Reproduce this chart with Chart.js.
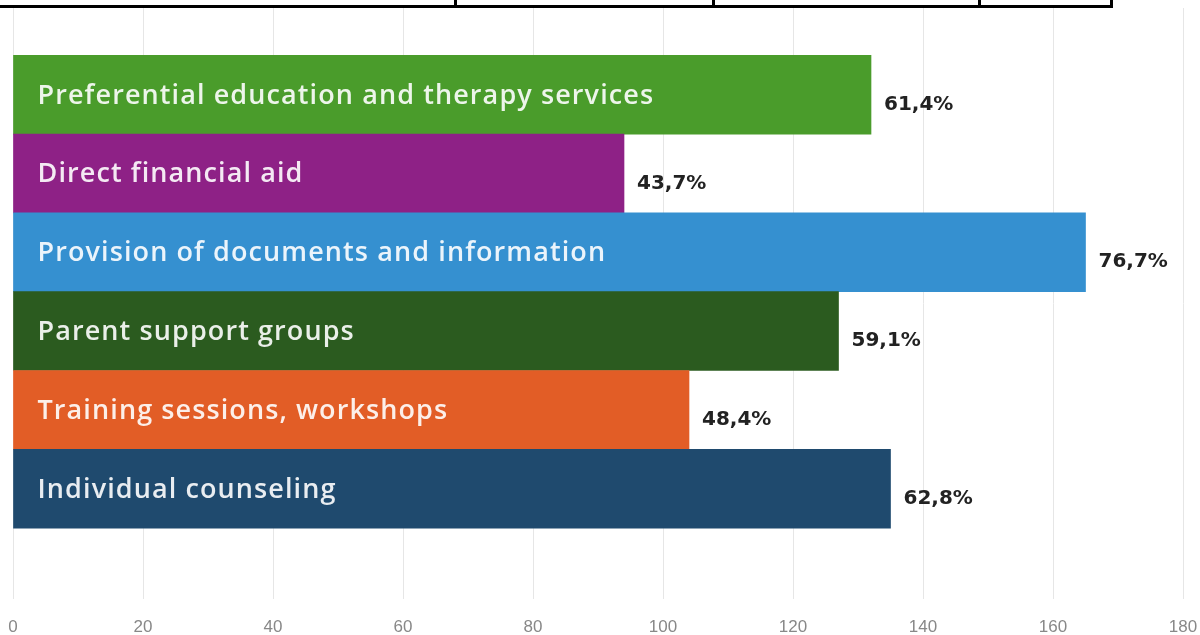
<!DOCTYPE html>
<html>
<head>
<meta charset="utf-8">
<script src="https://cdn.jsdelivr.net/npm/chart.js@4/dist/chart.umd.min.js"></script>
<style>
  html, body { margin: 0; padding: 0; background: #fff; }
  #wrap { position: relative; width: 1200px; height: 635px; overflow: hidden; }
  #chart { position: absolute; left: 0; top: 0; }
  /* bottom edge of the table row that sits above the chart */
  #table-edge {
    position: absolute; left: 0; top: 0; width: 1110px; height: 5px;
    border-bottom: 3px solid #000; border-right: 3px solid #000;
  }
  .cell-divider { position: absolute; top: 0; width: 3px; height: 5px; background: #000; }
</style>
</head>
<body>
<div id="wrap">
  <canvas id="chart" width="1200" height="635"></canvas>
  <div id="table-edge">
    <div class="cell-divider" style="left: 454px"></div>
    <div class="cell-divider" style="left: 712px"></div>
    <div class="cell-divider" style="left: 978px"></div>
  </div>
</div>
<script>
'use strict';

const SERVICES = [
  'Preferential education and therapy services',
  'Direct financial aid',
  'Provision of documents and information',
  'Parent support groups',
  'Training sessions, workshops',
  'Individual counseling',
];
const COUNTS = [132, 94, 165, 127, 104, 135];
const RESPONDENTS = 215;
const BAR_COLORS = ['#4a9c2b', '#8e2186', '#3590d0', '#2b5b1f', '#e25d26', '#1f4a6e'];
const X_MAX = 180;
const X_STEP = 20;

function formatShare(count) {
  return (count / RESPONDENTS * 100).toFixed(1).replace('.', ',') + '%';
}

// service names inside the bars, shares just past the bar ends
const barLabels = {
  id: 'barLabels',
  afterDatasetsDraw(chart) {
    const ctx = chart.ctx;
    const bars = chart.getDatasetMeta(0).data;
    ctx.save();
    bars.forEach((bar, i) => {
      ctx.textAlign = 'left';
      ctx.textBaseline = 'alphabetic';
      ctx.fillStyle = 'rgba(255, 255, 255, 0.9)';
      ctx.font = '600 27px "Open Sans"';
      ctx.letterSpacing = '1.1px';
      ctx.fillText(SERVICES[i], bar.base + 24, bar.y + 9);

      ctx.textBaseline = 'middle';
      ctx.fillStyle = '#222';
      ctx.font = 'bold 20px "DejaVu Sans"';
      ctx.letterSpacing = '0px';
      ctx.fillText(formatShare(COUNTS[i]), bar.x + 13, bar.y + 10);
    });
    ctx.restore();
  },
};

new Chart(document.getElementById('chart'), {
  type: 'bar',
  data: {
    datasets: [{
      data: COUNTS.map((count, i) => ({ x: count, y: i })),
      backgroundColor: BAR_COLORS,
      borderWidth: 0,
      barPercentage: 1,
      categoryPercentage: 1,
    }],
  },
  options: {
    indexAxis: 'y',
    responsive: false,
    animation: false,
    layout: { padding: { left: 13, right: 17, top: 8, bottom: 0 } },
    plugins: {
      legend: { display: false },
      tooltip: { enabled: false },
    },
    scales: {
      x: {
        type: 'linear',
        min: 0,
        max: X_MAX,
        border: { display: false },
        grid: { color: '#e6e6e6', lineWidth: 1, drawTicks: false },
        ticks: {
          stepSize: X_STEP,
          padding: 18,
          color: '#888',
          font: { family: '"Liberation Sans", Arial, sans-serif', size: 17 },
        },
        afterFit(scale) {
          // let the outer tick labels overhang the plot edges
          scale.paddingLeft = 0;
          scale.paddingRight = 0;
          scale.height = 36;
        },
      },
      y: {
        type: 'linear',
        display: false,
        reverse: true,
        offset: false,
        min: -1.1,
        max: 6.4,
        ticks: { stepSize: 1, includeBounds: false },
      },
    },
  },
  plugins: [barLabels],
});
</script>
</body>
</html>
